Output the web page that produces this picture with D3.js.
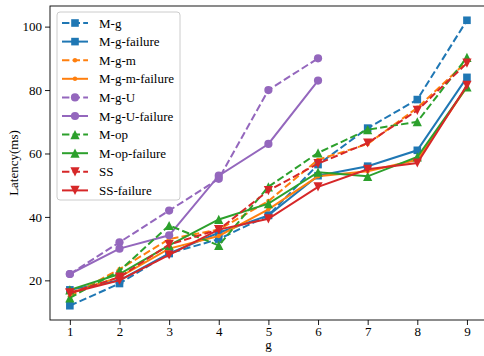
<!DOCTYPE html>
<html>
<head>
<meta charset="utf-8">
<script src="https://cdn.jsdelivr.net/npm/d3@7"></script>
<style>
  body { margin: 0; background: #fff; }
  svg text { font-family: "Liberation Serif"; }
</style>
</head>
<body>
<svg id="main"></svg>
<script>
const width = 484;
const height = 356;
const position = { left: 50, top: 6, right: -2.8, bottom: 36 };
const innerWidth = width - position.left - position.right;
const innerHeight = height - position.top - position.bottom;
const serif = '"Liberation Serif"';

// 数据
const gValues = [1, 2, 3, 4, 5, 6, 7, 8, 9];
const mg = [12, 19, 28.5, 33, 40.5, 56.5, 68, 77, 102];
const mgFailure = [17, 20, 28.5, 35, 40.5, 53, 56, 61, 84];
const mgm = [15, 23.5, 33, 36, 45, 58, 63, 74.4, 89];
const mgmFailure = [16, 21, 30, 34, 42.4, 52.8, 54.4, 58, 81];
const mgU = [22, 32, 42, 52, 80, 90];
const mgUFailure = [22, 30, 34.2, 53, 63, 83];
const mop = [14.5, 23, 37.3, 31, 49.5, 60.2, 67.5, 70, 90.3];
const mopFailure = [17, 22, 31, 39.2, 44.2, 54.1, 52.8, 58.9, 81];
const ss = [16, 21, 31.3, 36, 48.3, 56.8, 63.3, 73.6, 88.5];
const ssFailure = [16, 20, 28, 36, 39.4, 49.5, 55, 57, 81.5];
const yTicks = [20, 40, 60, 80, 100];

const series = [
  { name: 'M-g', values: mg, color: '#1f77b4', dash: true, marker: 's' },
  { name: 'M-g-failure', values: mgFailure, color: '#1f77b4', dash: false, marker: 's' },
  { name: 'M-g-m', values: mgm, color: '#ff7f0e', dash: true, marker: '.' },
  { name: 'M-g-m-failure', values: mgmFailure, color: '#ff7f0e', dash: false, marker: '.' },
  { name: 'M-g-U', values: mgU, color: '#9467bd', dash: true, marker: 'o' },
  { name: 'M-g-U-failure', values: mgUFailure, color: '#9467bd', dash: false, marker: 'o' },
  { name: 'M-op', values: mop, color: '#2ca02c', dash: true, marker: '^' },
  { name: 'M-op-failure', values: mopFailure, color: '#2ca02c', dash: false, marker: '^' },
  { name: 'SS', values: ss, color: '#d62728', dash: true, marker: 'v' },
  { name: 'SS-failure', values: ssFailure, color: '#d62728', dash: false, marker: 'v' }
];

const mainSvg = d3.select('#main').attr('width', width).attr('height', height);
const mainGroup = mainSvg
  .append('g')
  .attr('transform', `translate(${position.left}, ${position.top})`);

// 比例尺
const xScale = d3.scaleLinear().domain([0.6, 9.4]).range([0, innerWidth]);
const yScale = d3.scaleLinear().domain([7.5, 106.5]).range([innerHeight, 0]);

// 坐标轴
const xAxis = d3.axisBottom(xScale).tickValues(gValues).tickSize(5).tickPadding(2).tickFormat(d3.format('d'));
const yAxis = d3.axisLeft(yScale).tickValues(yTicks).tickSize(5).tickPadding(3);

const xg = mainGroup.append('g').attr('transform', `translate(0,${innerHeight})`).call(xAxis);
const yg = mainGroup.append('g').call(yAxis);
[xg, yg].forEach(g => {
  g.attr('font-family', serif).attr('font-size', 13);
  g.select('.domain').remove();
  g.selectAll('line').attr('stroke', '#000').attr('stroke-width', 0.9);
  g.selectAll('text').attr('fill', '#000');
});

// 线条
const line = d3.line().x((d, i) => xScale(gValues[i])).y(d => yScale(d));

function drawMarker(sel, marker, color, cx, cy) {
  if (marker === 's') {
    sel.append('rect').attr('x', cx - 3.8).attr('y', cy - 3.8).attr('width', 7.6).attr('height', 7.6).attr('fill', color);
  } else if (marker === '.') {
    sel.append('circle').attr('cx', cx).attr('cy', cy).attr('r', 2.2).attr('fill', color);
  } else if (marker === 'o') {
    sel.append('circle').attr('cx', cx).attr('cy', cy).attr('r', 4.1).attr('fill', color);
  } else if (marker === '^') {
    sel.append('path').attr('d', `M${cx},${cy - 4.6}L${cx + 4.6},${cy + 4.6}L${cx - 4.6},${cy + 4.6}Z`).attr('fill', color);
  } else if (marker === 'v') {
    sel.append('path').attr('d', `M${cx},${cy + 4.6}L${cx + 4.6},${cy - 4.6}L${cx - 4.6},${cy - 4.6}Z`).attr('fill', color);
  }
}

series.forEach(s => {
  const g = mainGroup.append('g');
  g.append('path')
    .datum(s.values)
    .attr('d', line)
    .attr('fill', 'none')
    .attr('stroke', s.color)
    .attr('stroke-width', 2)
    .attr('stroke-dasharray', s.dash ? '7.4,3.2' : null);
  s.values.forEach((v, i) => drawMarker(g, s.marker, s.color, xScale(gValues[i]), yScale(v)));
});

// 边框
mainGroup.append('rect')
  .attr('width', innerWidth).attr('height', innerHeight)
  .attr('fill', 'none').attr('stroke', '#000').attr('stroke-width', 0.9);

// 图例
const legend = mainSvg.append('g').attr('transform', 'translate(57,12)');
legend.append('rect')
  .attr('width', 123).attr('height', 188).attr('rx', 3)
  .attr('fill', '#fff').attr('fill-opacity', 0.8)
  .attr('stroke', '#ccc').attr('stroke-width', 1);
series.forEach((s, i) => {
  const y = 11 + i * 18.6;
  const row = legend.append('g');
  row.append('line').attr('x1', 5).attr('x2', 31).attr('y1', y).attr('y2', y)
    .attr('stroke', s.color).attr('stroke-width', 2)
    .attr('stroke-dasharray', s.dash ? '7.4,3.2' : null);
  drawMarker(row, s.marker, s.color, 18, y);
  row.append('text').attr('x', 42).attr('y', y + 4.5).text(s.name)
    .attr('font-family', serif).attr('font-size', 13).attr('fill', '#000');
});

// 轴标题
mainSvg.append('text').attr('x', position.left + xScale(5)).attr('y', 349)
  .attr('text-anchor', 'middle').attr('font-family', serif).attr('font-size', 13).text('g');
mainSvg.append('text')
  .attr('transform', `translate(18,${position.top + innerHeight / 2}) rotate(-90)`)
  .attr('text-anchor', 'middle').attr('font-family', serif).attr('font-size', 13).text('Latency(ms)');
</script>
</body>
</html>
